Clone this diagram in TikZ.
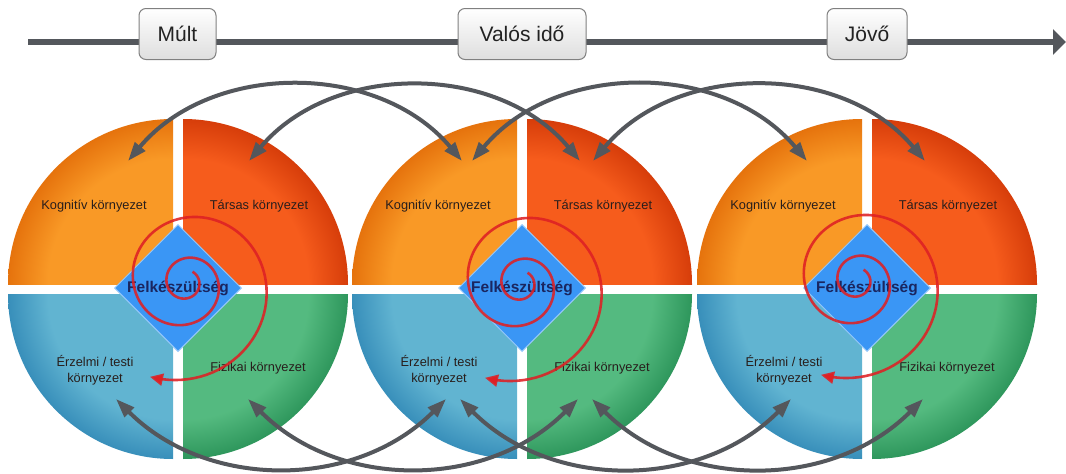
\documentclass[tikz,border=0pt]{standalone}
\usepackage{fontspec}
\setmainfont{Liberation Sans}
\usetikzlibrary{arrows.meta,shapes.geometric}
\definecolor{gline}{RGB}{84,87,92}
\definecolor{spred}{RGB}{222,32,36}
\definecolor{dblue}{RGB}{58,150,245}
\definecolor{navy}{RGB}{26,38,96}
\definecolor{labc}{RGB}{40,30,28}
\definecolor{boxbot}{RGB}{222,222,222}
\pgfdeclareradialshading{shOr}{\pgfpoint{0bp}{0bp}}{rgb(0bp)=(0.975,0.600,0.150); rgb(19bp)=(0.975,0.600,0.150); rgb(25bp)=(0.900,0.450,0.050); rgb(50bp)=(0.900,0.450,0.050)}
\pgfdeclareradialshading{shRd}{\pgfpoint{0bp}{0bp}}{rgb(0bp)=(0.965,0.360,0.110); rgb(19bp)=(0.965,0.360,0.110); rgb(25bp)=(0.840,0.240,0.040); rgb(50bp)=(0.840,0.240,0.040)}
\pgfdeclareradialshading{shBl}{\pgfpoint{0bp}{0bp}}{rgb(0bp)=(0.380,0.705,0.820); rgb(19bp)=(0.380,0.705,0.820); rgb(25bp)=(0.220,0.560,0.730); rgb(50bp)=(0.220,0.560,0.730)}
\pgfdeclareradialshading{shGr}{\pgfpoint{0bp}{0bp}}{rgb(0bp)=(0.330,0.730,0.500); rgb(19bp)=(0.330,0.730,0.500); rgb(25bp)=(0.180,0.590,0.360); rgb(50bp)=(0.180,0.590,0.360)}
\begin{document}
\begin{tikzpicture}[x=1pt,y=-1pt,
  tbox/.style={draw={rgb,255:red,128;green,128;blue,128}, line width=1pt, rounded corners=7pt,
    top color=white, bottom color=boxbot, minimum height=51pt, inner sep=0pt,
    font=\fontsize{21}{24}\selectfont, text={rgb,255:red,34;green,34;blue,34}},
  qlab/.style={font=\fontsize{12.8}{16}\selectfont, text=labc, inner sep=0pt},
  diam/.style={diamond, aspect=1, fill=dblue, draw={rgb,255:red,150;green,200;blue,250}, line width=1pt,
    minimum width=127pt, minimum height=127pt, inner sep=0pt,
    font=\bfseries\fontsize{15.5}{18}\selectfont, text=navy},
  garc/.style={draw=gline, line width=4pt,
    {Triangle[length=19pt,width=13pt]}-{Triangle[length=19pt,width=13pt]}},
  spir/.style={draw=spred, draw opacity=0.88, line width=2.6pt, -{Triangle[length=13pt,width=12pt]}},
  tline/.style={draw=gline, line width=6pt, -{Triangle[length=13pt,width=25pt]}}
]
\fill[white] (0,0) rectangle (1066,474);
\useasboundingbox (0,0) rectangle (1066,474);

% timeline
\coordinate (tl0) at (28,42);
\coordinate (tl1) at (1066,42);
\draw[tline] (tl0) -- (tl1);
\node[tbox, minimum width=77pt] (past) at (177.5,34) {Múlt};
\node[tbox, minimum width=128pt] (now) at (522,34) {Valós idő};
\node[tbox, minimum width=80pt] (future) at (867,34) {Jövő};

% circles
\foreach \i/\cx/\sx/\sy in {1/178/186/283,2/522/521/284,3/867/857/281} {
  \begin{scope}
    \clip (\cx-180,104) rectangle (\cx-5,284);
    \shade[shading=shOr] (\cx-5,284) circle (165);
  \end{scope}
  \begin{scope}
    \clip (\cx+5,104) rectangle (\cx+180,284);
    \shade[shading=shRd] (\cx+5,284) circle (165);
  \end{scope}
  \begin{scope}
    \clip (\cx-180,294) rectangle (\cx-5,470);
    \shade[shading=shBl] (\cx-5,294) circle (165);
  \end{scope}
  \begin{scope}
    \clip (\cx+5,294) rectangle (\cx+180,470);
    \shade[shading=shGr] (\cx+5,294) circle (165);
  \end{scope}
  \node[qlab] (kog\i) at (\cx-84,206) {Kognitív környezet};
  \node[qlab] (tar\i) at (\cx+81,206) {Társas környezet};
  \node[qlab, align=center] (erz\i) at (\cx-83,370) {Érzelmi / testi\\környezet};
  \node[qlab] (fiz\i) at (\cx+80,368) {Fizikai környezet};
  \node[diam] (felk\i) at (\cx,288) {Felkészültség};
  \draw[spir] plot[domain=0:891, samples=240]
    ({\sx+(13+(0.0105*\x)*(0.0105*\x))*cos(60-\x)}, {\sy-(13+(0.0105*\x)*(0.0105*\x))*sin(60-\x)});
  \coordinate (ks\i) at (\cx-50,161);
  \coordinate (ke\i) at (\cx-60,161);
  \coordinate (ts\i) at (\cx+71,161);
  \coordinate (te\i) at (\cx+58,161);
  \coordinate (es\i) at (\cx-62,399);
  \coordinate (ee\i) at (\cx-76,399);
  \coordinate (fs\i) at (\cx+70,399);
  \coordinate (fe\i) at (\cx+56,399);
}

% gray arcs
\draw[garc] (ks1) to[bend left=50] (ke2);
\draw[garc] (ts1) to[bend left=50] (te2);
\draw[garc] (ks2) to[bend left=50] (ke3);
\draw[garc] (ts2) to[bend left=50] (te3);
\draw[garc] (es1) to[bend right=45] (ee2);
\draw[garc] (fs1) to[bend right=45] (fe2);
\draw[garc] (es2) to[bend right=45] (ee3);
\draw[garc] (fs2) to[bend right=45] (fe3);
\end{tikzpicture}
\end{document}
